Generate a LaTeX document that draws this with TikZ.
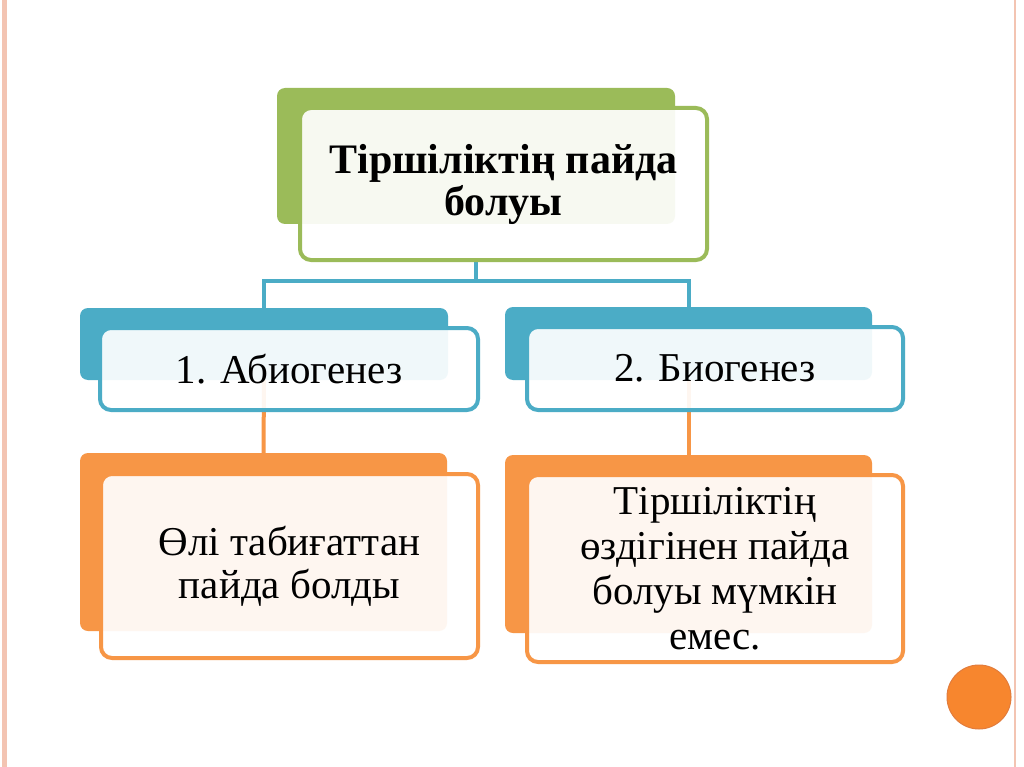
\documentclass[tikz,border=0pt]{standalone}
\usepackage{fontspec}
\setmainfont{Liberation Serif}
\definecolor{olive}{RGB}{155,187,89}
\definecolor{sky}{RGB}{75,172,198}
\definecolor{tang}{RGB}{247,150,70}
\definecolor{frame}{RGB}{243,196,178}
\tikzset{
  backbox/.style={draw=none, fill=#1, rounded corners=8pt, inner sep=0pt},
  frontbox/.style={draw=#1, line width=4pt, rounded corners=11pt, fill=white,
    fill opacity=0.92, text opacity=1, align=center, inner sep=0pt},
  link/.style={draw=#1, line width=4pt}
}
\begin{document}
\begin{tikzpicture}[x=1pt,y=-1pt]
        \useasboundingbox (0,0) rectangle (1024,767);
        \fill[white] (0,0) rectangle (1024,767);
        \fill[frame] (2,0) rectangle (7,767);
        \draw[frame, line width=1.5pt] (1015,0)--(1015,767);
        \draw[fill={rgb,255:red,247;green,134;blue,46}, draw={rgb,255:red,226;green,124;blue,60}, line width=1pt] (979,697) circle [radius=32];

        \node[backbox=olive, minimum width=398pt, minimum height=136pt] (topback) at (476,156) {};
        \node[backbox=sky, minimum width=368pt, minimum height=72pt] (abioback) at (264,344) {};
        \node[backbox=sky, minimum width=367pt, minimum height=73pt] (bioback) at (688.5,343.5) {};
        \node[backbox=tang, minimum width=367pt, minimum height=178pt] (deadback) at (263.5,542) {};
        \node[backbox=tang, minimum width=367pt, minimum height=178pt] (selfback) at (688.5,544) {};

        \draw[link=sky] (topback.south |- 0,260) -- (topback.south |- 0,281) -| (abioback.north);
        \draw[link=sky] (topback.south |- 0,281) -| (bioback.north);
        \draw[link=tang] (abioback.south) -- (deadback.north);
        \draw[link=tang] (bioback.south) -- (selfback.north);

        \node[frontbox=olive, minimum width=407pt, minimum height=152pt,
          font=\fontsize{42}{42}\selectfont\bfseries] (top) at (503.5,184) {Тіршіліктің пайда\\болуы};
        \node[frontbox=sky, minimum width=378pt, minimum height=82pt,
          font=\fontsize{41}{44}\selectfont] (abio) at (289,369) {1. Абиогенез};
        \node[frontbox=sky, minimum width=376pt, minimum height=83pt,
          font=\fontsize{41}{44}\selectfont] (bio) at (715,368.5) {2. Биогенез};
        \node[frontbox=tang, minimum width=377pt, minimum height=184pt,
          font=\fontsize{41}{43}\selectfont] (dead) at (289.5,566) {Өлі табиғаттан\\пайда болды};
        \node[frontbox=tang, minimum width=376pt, minimum height=187pt,
          font=\fontsize{41}{45}\selectfont] (self) at (715,568.5) {Тіршіліктің\\өздігінен пайда\\болуы мүмкін\\емес.};
    \end{tikzpicture}
\end{document}
